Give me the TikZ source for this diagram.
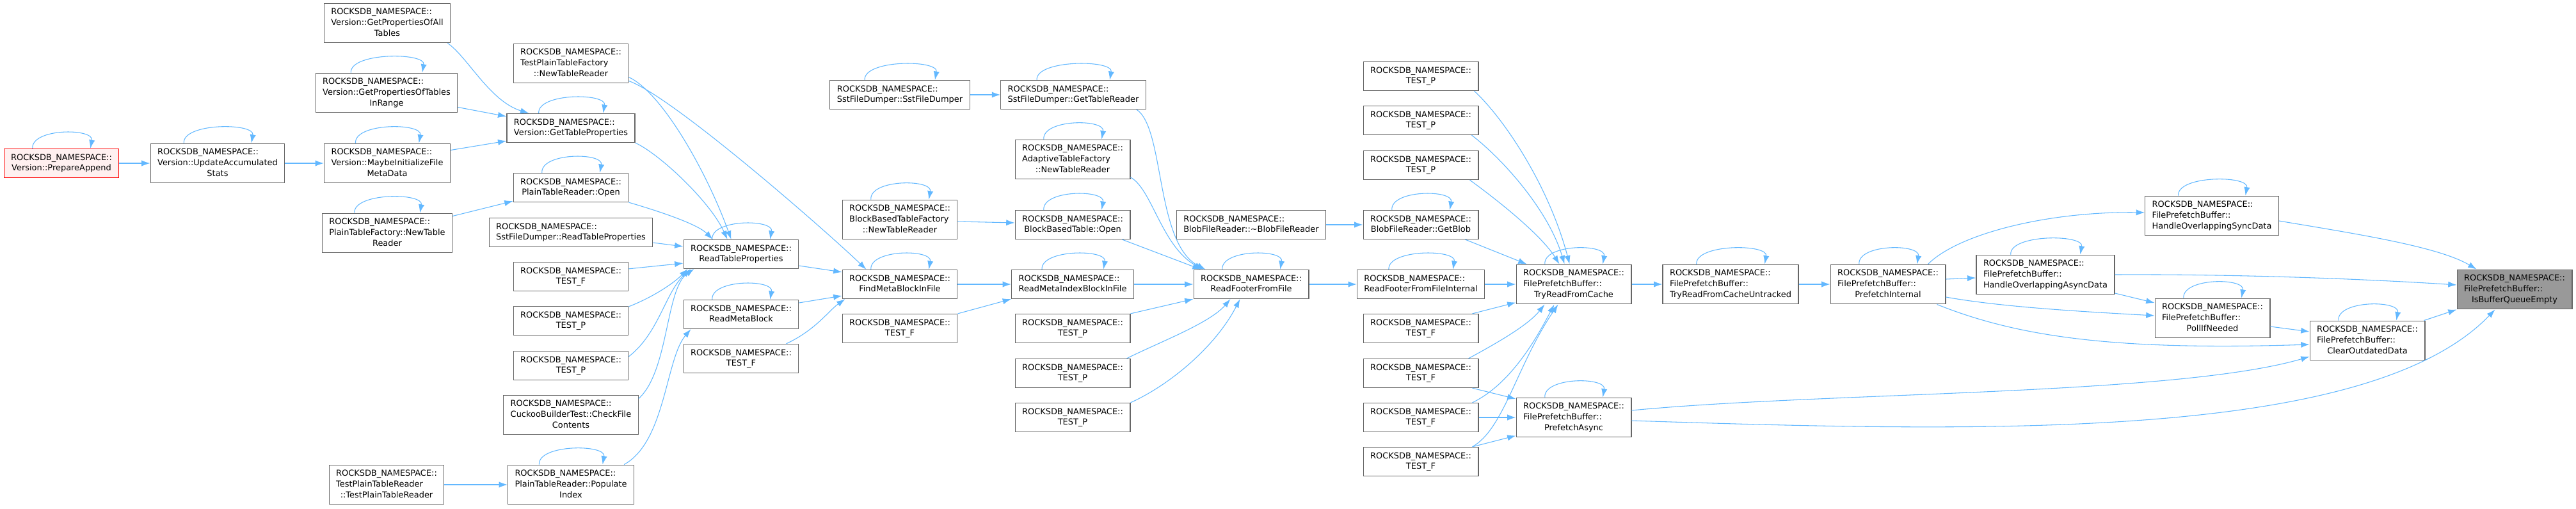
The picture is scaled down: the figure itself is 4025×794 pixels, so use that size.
\documentclass[tikz,border=0pt]{standalone}
\usepackage{fontspec}
\setmainfont{DejaVu Sans}
\usepackage{xcolor}
\definecolor{edgeblue}{RGB}{99,184,255}
\definecolor{boxline}{RGB}{102,102,102}
\definecolor{rootred}{RGB}{255,0,0}
\definecolor{rootfill}{RGB}{255,240,240}
\definecolor{selffill}{RGB}{153,153,153}
\usepackage{tikz}
\usetikzlibrary{arrows.meta,calc}
\newcommand{\rdbns}{ROCKSDB\_NAMESPACE::}
\newcommand{\fntwo}[1]{\begin{tabular}{@{}l@{}}\rdbns\\\multicolumn{1}{@{}c@{}}{#1}\end{tabular}}
\newcommand{\fnthree}[2]{\begin{tabular}{@{}l@{}}\rdbns\\#1\\\multicolumn{1}{@{}c@{}}{#2}\end{tabular}}

\begin{document}
\begin{tikzpicture}[x=0.75pt,y=-0.75pt]
  \tikzstyle{fnbox}=[rectangle,draw=boxline,line width=0.9pt,fill=white,inner xsep=8.25pt,inner ysep=4.4pt,font=\fontsize{9.7}{12.5}\selectfont]
  \tikzstyle{rootbox}=[fnbox,draw=rootred,fill=rootfill]
  \tikzstyle{selfbox}=[fnbox,fill=selffill]
  \tikzstyle{edge}=[draw=edgeblue,line width=0.8pt,-{Latex[length=10pt,width=7pt]}]
  \useasboundingbox (0,0) rectangle (4025,794);

  \node[rootbox] (prepapp) at (96,255) {\fntwo{Version::PrepareAppend}};
  \node[fnbox] (updacc) at (340,255) {\fnthree{Version::UpdateAccumulated}{Stats}};
  \node[fnbox] (gpall) at (605,36) {\fnthree{Version::GetPropertiesOfAll}{Tables}};
  \node[fnbox] (gprange) at (604,145) {\fnthree{Version::GetPropertiesOfTables}{InRange}};
  \node[fnbox] (maybeinit) at (605,255) {\fnthree{Version::MaybeInitializeFile}{MetaData}};
  \node[fnbox] (ptfnew) at (605,364) {\fnthree{PlainTableFactory::NewTable}{Reader}};
  \node[fnbox] (tptr) at (604,757) {\fnthree{TestPlainTableReader}{::TestPlainTableReader}};
  \node[fnbox] (tptfnew) at (892,99) {\fnthree{TestPlainTableFactory}{::NewTableReader}};
  \node[fnbox] (gettp) at (892,200) {\fntwo{Version::GetTableProperties}};
  \node[fnbox] (ptropen) at (892,293) {\fntwo{PlainTableReader::Open}};
  \node[fnbox] (sfdrtp) at (892,363) {\fntwo{SstFileDumper::ReadTableProperties}};
  \node[fnbox] (testf1) at (892,432) {\fntwo{TEST\_F}};
  \node[fnbox] (testp1) at (892,501) {\fntwo{TEST\_P}};
  \node[fnbox] (testp2) at (892,571) {\fntwo{TEST\_P}};
  \node[fnbox] (cuckoo) at (892,648) {\fnthree{CuckooBuilderTest::CheckFile}{Contents}};
  \node[fnbox] (popidx) at (892,757) {\fnthree{PlainTableReader::Populate}{Index}};
  \node[fnbox] (readtp) at (1158,397) {\fntwo{ReadTableProperties}};
  \node[fnbox] (readmb) at (1158,491) {\fntwo{ReadMetaBlock}};
  \node[fnbox] (testf2) at (1158,560) {\fntwo{TEST\_F}};
  \node[fnbox] (sfdctor) at (1406,148) {\fntwo{SstFileDumper::SstFileDumper}};
  \node[fnbox] (bbtfnew) at (1406,343) {\fnthree{BlockBasedTableFactory}{::NewTableReader}};
  \node[fnbox] (findmb) at (1406,444) {\fntwo{FindMetaBlockInFile}};
  \node[fnbox] (testf3) at (1406,513) {\fntwo{TEST\_F}};
  \node[fnbox] (sfdgtr) at (1677,148) {\fntwo{SstFileDumper::GetTableReader}};
  \node[fnbox] (atfnew) at (1676,249) {\fnthree{AdaptiveTableFactory}{::NewTableReader}};
  \node[fnbox] (bbtopen) at (1676,351) {\fntwo{BlockBasedTable::Open}};
  \node[fnbox] (readmib) at (1676,444) {\fntwo{ReadMetaIndexBlockInFile}};
  \node[fnbox] (testp3) at (1676,513) {\fntwo{TEST\_P}};
  \node[fnbox] (testp4) at (1676,583) {\fntwo{TEST\_P}};
  \node[fnbox] (testp5) at (1676,652) {\fntwo{TEST\_P}};
  \node[fnbox] (bfrdtor) at (1955,351) {\fntwo{BlobFileReader::\textasciitilde BlobFileReader}};
  \node[fnbox] (readfooter) at (1955,444) {\fntwo{ReadFooterFromFile}};
  \node[fnbox] (testp6) at (2220,119) {\fntwo{TEST\_P}};
  \node[fnbox] (testp7) at (2220,188) {\fntwo{TEST\_P}};
  \node[fnbox] (testp8) at (2220,258) {\fntwo{TEST\_P}};
  \node[fnbox] (getblob) at (2220,351) {\fntwo{BlobFileReader::GetBlob}};
  \node[fnbox] (rfffint) at (2220,444) {\fntwo{ReadFooterFromFileInternal}};
  \node[fnbox] (testf4) at (2220,513) {\fntwo{TEST\_F}};
  \node[fnbox] (testf5) at (2220,583) {\fntwo{TEST\_F}};
  \node[fnbox] (testf6) at (2220,652) {\fntwo{TEST\_F}};
  \node[fnbox] (testf7) at (2220,721) {\fntwo{TEST\_F}};
  \node[fnbox] (trfc) at (2459,444) {\fnthree{FilePrefetchBuffer::}{TryReadFromCache}};
  \node[fnbox] (pfasync) at (2459,652) {\fnthree{FilePrefetchBuffer::}{PrefetchAsync}};
  \node[fnbox] (trfcu) at (2704,444) {\fnthree{FilePrefetchBuffer::}{TryReadFromCacheUntracked}};
  \node[fnbox] (pfint) at (2950,444) {\fnthree{FilePrefetchBuffer::}{PrefetchInternal}};
  \node[fnbox] (hoasync) at (3196,429) {\fnthree{FilePrefetchBuffer::}{HandleOverlappingAsyncData}};
  \node[fnbox] (hosync) at (3456,337) {\fnthree{FilePrefetchBuffer::}{HandleOverlappingSyncData}};
  \node[fnbox] (pollif) at (3457,497) {\fnthree{FilePrefetchBuffer::}{PollIfNeeded}};
  \node[fnbox] (clearod) at (3699,532) {\fnthree{FilePrefetchBuffer::}{ClearOutdatedData}};
  \node[selfbox] (isbqe) at (3929,452) {\fnthree{FilePrefetchBuffer::}{IsBufferQueueEmpty}};

  \foreach \n in {prepapp,updacc,gprange,maybeinit,ptfnew,gettp,ptropen,readtp,readmb,popidx,sfdctor,bbtfnew,findmb,sfdgtr,atfnew,bbtopen,readmib,readfooter,getblob,rfffint,trfc,trfcu,pfint,hoasync,hosync,pollif,clearod,pfasync}
    \draw[edge] ($(\n.north west)!0.25!(\n.north east)$) .. controls +(-2,-32) and +(6,-32) .. ($(\n.north west)!0.75!(\n.north east)$);

  \draw[edge] (prepapp) -- (updacc);
  \draw[edge] (updacc) -- (maybeinit);
  \draw[edge] ($(gpall.south east)+(-5,0)$) .. controls (730,88) and (765,158) .. ($(gettp.north west)+(35,0)$);
  \draw[edge] ($(gprange.south east)+(0,-9)$) -- ($(gettp.north west)+(0,5)$);
  \draw[edge] ($(maybeinit.north east)+(0,11)$) -- ($(gettp.south west)+(0,-3)$);
  \draw[edge] ($(ptfnew.north east)+(0,5)$) -- ($(ptropen.south west)+(0,-2)$);
  \draw[edge] (tptr) -- (popidx);
  \draw[edge] (gettp.south east) .. controls (1030,240) and (1110,315) .. ($(readtp.north west)+(69,0)$);
  \draw[edge] ($(tptfnew.south east)+(0,-10)$) .. controls (1035,145) and (1105,270) .. ($(readtp.north west)+(75,0)$);
  \draw[edge] ($(tptfnew.south east)+(0,-4)$) .. controls (1050,150) and (1290,360) .. ($(findmb.north west)+(38,0)$);
  \draw[edge] (ptropen.south east) .. controls (1030,330) and (1090,350) .. ($(readtp.north west)+(46,0)$);
  \draw[edge] ($(sfdrtp.east)+(0,16)$) -- ($(readtp.west)+(0,-12)$);
  \draw[edge] ($(testf1.north east)+(0,11)$) -- ($(readtp.south west)+(0,-9)$);
  \draw[edge] ($(testp1.north east)+(0,1)$) .. controls (1025,462) and (1055,440) .. ($(readtp.south west)+(7,0)$);
  \draw[edge] ($(testp2.north east)+(0,9)$) .. controls (1030,520) and (1040,455) .. ($(readtp.south west)+(12,0)$);
  \draw[edge] ($(cuckoo.north east)+(0,6)$) .. controls (1045,580) and (1040,450) .. ($(readtp.south west)+(17,0)$);
  \draw[edge] ($(popidx.north east)+(-16,0)$) .. controls (1040,690) and (1040,560) .. ($(readmb.south west)+(12,0)$);
  \draw[edge] ($(readtp.east)+(0,18)$) -- ($(findmb.west)+(0,-19)$);
  \draw[edge] ($(readmb.east)+(0,-18)$) -- ($(findmb.west)+(0,18)$);
  \draw[edge] ($(testf2.north east)+(-20,0)$) .. controls (1275,515) and (1295,485) .. ($(findmb.south west)+(5,0)$);
  \draw[edge] (findmb) -- (readmib);
  \draw[edge] (testf3.north east) -- (readmib.south west);
  \draw[edge] (sfdctor) -- (sfdgtr);
  \draw[edge] ($(bbtfnew.east)+(0,3)$) -- ($(bbtopen.west)+(0,-3)$);
  \draw[edge] ($(sfdgtr.south east)+(-15,0)$) .. controls (1820,200) and (1805,380) .. ($(readfooter.north west)+(19,0)$);
  \draw[edge] ($(atfnew.east)+(0,28)$) .. controls (1800,295) and (1815,385) .. ($(readfooter.north west)+(15,0)$);
  \draw[edge] ($(bbtopen.south east)+(-13,0)$) -- ($(readfooter.north west)+(12,0)$);
  \draw[edge] (readmib) -- (readfooter);
  \draw[edge] (testp3.north east) -- (readfooter.south west);
  \draw[edge] ($(testp4.north east)+(-6,0)$) .. controls (1810,535) and (1890,505) .. ($(readfooter.south west)+(58,0)$);
  \draw[edge] (testp5.north east) .. controls (1830,600) and (1900,540) .. ($(readfooter.south west)+(73,0)$);
  \draw[edge] (bfrdtor) -- (getblob);
  \draw[edge] (readfooter) -- (rfffint);
  \draw[edge] ($(testp6.south east)+(-7,0)$) .. controls (2350,185) and (2420,290) .. ($(trfc.north west)+(84,0)$);
  \draw[edge] ($(testp7.south east)+(-11,0)$) .. controls (2350,250) and (2420,330) .. ($(trfc.north west)+(76,0)$);
  \draw[edge] ($(testp8.south east)+(-14,0)$) .. controls (2350,320) and (2410,370) .. ($(trfc.north west)+(68,0)$);
  \draw[edge] ($(getblob.south east)+(-21,0)$) -- ($(trfc.north west)+(17,0)$);
  \draw[edge] (rfffint) -- (trfc);
  \draw[edge] ($(testf4.north east)+(-10,0)$) -- ($(trfc.south west)+(0,-3)$);
  \draw[edge] ($(testf5.north east)+(-16,0)$) .. controls (2350,530) and (2390,505) .. ($(trfc.south west)+(45,0)$);
  \draw[edge] ($(testf5.south east)+(-10,0)$) -- ($(pfasync.west)+(0,-29)$);
  \draw[edge] ($(testf6.north east)+(-10,0)$) .. controls (2360,600) and (2400,530) .. ($(trfc.south west)+(60,0)$);
  \draw[edge] (testf6) -- (pfasync);
  \draw[edge] ($(testf7.north east)+(-10,0)$) .. controls (2350,670) and (2370,570) .. ($(trfc.south west)+(66,0)$);
  \draw[edge] ($(testf7.north east)+(-10,0)$) -- ($(pfasync.south west)+(0,-3)$);
  \draw[edge] (trfc) -- (trfcu);
  \draw[edge] (trfcu) -- (pfint);
  \draw[edge] ($(pfint.north east)+(-28,0)$) .. controls (3060,365) and (3200,330) .. ($(hosync.west)+(0,-5)$);
  \draw[edge] ($(pfint.east)+(0,-8)$) -- ($(hoasync.west)+(0,5)$);
  \draw[edge] ($(pfint.east)+(0,20)$) .. controls (3130,480) and (3260,487) .. ($(pollif.west)+(0,-4)$);
  \draw[edge] ($(pfint.south east)+(-14,0)$) .. controls (3150,525) and (3300,548) .. ($(clearod.west)+(0,6)$);
  \draw[edge] ($(hoasync.east)+(0,29)$) -- ($(pollif.west)+(0,-24)$);
  \draw[edge] (hoasync.east) .. controls (3500,428) and (3700,436) .. ($(isbqe.west)+(0,-7)$);
  \draw[edge] ($(hosync.east)+(0,8)$) .. controls (3680,365) and (3810,385) .. ($(isbqe.north west)+(31,0)$);
  \draw[edge] ($(pollif.east)+(0,13)$) -- ($(clearod.west)+(0,-14)$);
  \draw[edge] ($(clearod.north east)+(-2,0)$) -- (isbqe.south west);
  \draw[edge] ($(pfasync.east)+(0,-11)$) .. controls (2850,612) and (3400,618) .. ($(clearod.west)+(0,25)$);
  \draw[edge] ($(pfasync.east)+(0,5)$) .. controls (3100,675) and (3700,690) .. ($(isbqe.south west)+(60,0)$);
\end{tikzpicture}
\end{document}
